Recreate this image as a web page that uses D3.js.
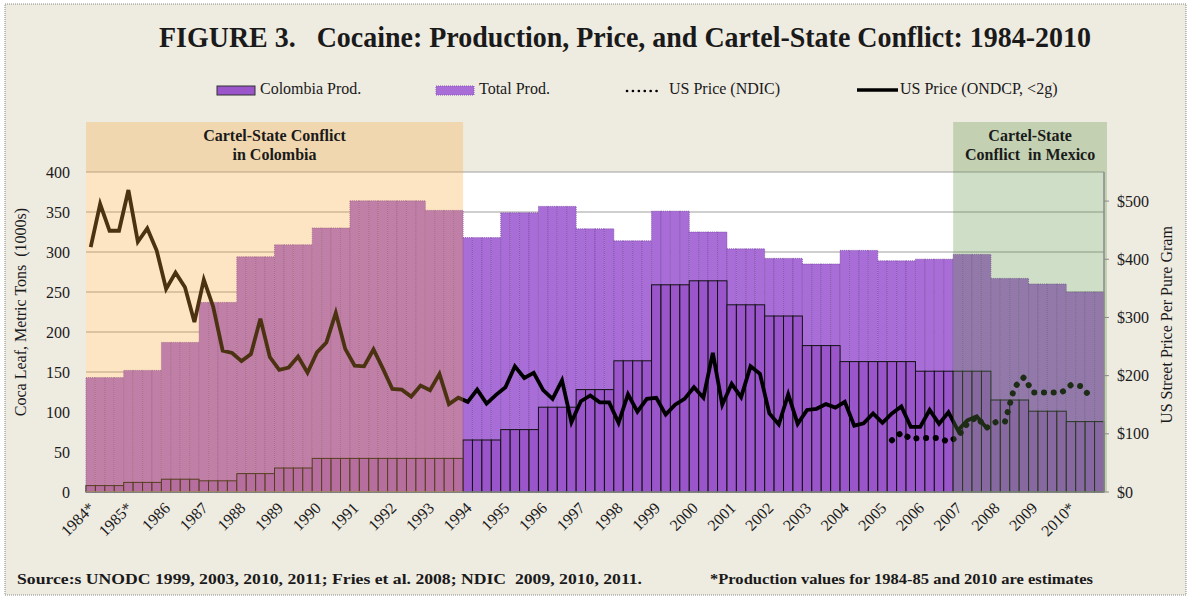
<!DOCTYPE html>
<html>
<head>
<meta charset="utf-8">
<script src="https://cdn.jsdelivr.net/npm/d3@7"></script>
<style>
  body { margin: 0; background: #ffffff; }
  svg text { font-family: "Liberation Serif", "DejaVu Serif", serif; fill: #1a1a1a; white-space: pre; }
</style>
</head>
<body>
<svg id="chart"></svg>
<script>
// year labels (one per year, 4 quarterly slots each)
var years = ["1984*","1985*","1986","1987","1988","1989","1990","1991","1992","1993","1994",
  "1995","1996","1997","1998","1999","2000","2001","2002","2003","2004","2005","2006",
  "2007","2008","2009","2010*"];

// production, 1000s metric tons (annual)
var totalProd = [143,152,187,237,294,309,330,364,364,352,318,349,357,329,314,351,325,304,292,285,302,289,291,297,267,260,250];
var colombiaProd = [8,12,16,14,23,30,42,42,42,42,65,78,106,128,164,259,264,234,220,183,163,163,151,151,115,101,88];

// US price per pure gram, quarterly from 1984 Q1 (ONDCP, <2g)
var ondcpPrice = [421,495,449,449, 519,430,453,415, 349,377,352,292, 365,318,243,239,
  225,237,298,232, 210,214,233,205, 240,257,308,246, 217,216,245,212,
  177,176,164,183, 175,203,151,162, 155,176,152,167, 180,216,196,205,
  175,160,192,120, 156,166,154,154, 119,168,138,160, 162,133,150,160,
  180,162,239,150, 186,163,216,203, 135,116,168,117, 141,143,151,145,
  155,114,118,135, 119,135,147,112, 112,141,117,137, 106,123,130,111];

// NDIC price, quarterly starting 2005 Q2 (quarter index 85)
var ndicStart = 85;
var ndicPrice = [89,102,91, 93,93,93,86, 95,118,129,110, 120,121,180,197, 171,171,171,171, 184,182,165];

var leftTicks = [0,50,100,150,200,250,300,350,400];
var rightTicks = [0,100,200,300,400,500];

var width = 1187, height = 598;
var pLeft = 86, pRight = 1104, pTop = 172, pBottom = 492;

var svg = d3.select("#chart").attr("width", width).attr("height", height);

var quarters = d3.range(years.length * 4);

var x = d3.scaleBand().domain(quarters).range([pLeft, pRight]).padding(0);
var y = d3.scaleLinear().domain([0, 400]).range([pBottom, pTop]);
var yPrice = d3.scaleLinear().domain([0, 550]).range([pBottom, pTop]);

// background
svg.append("rect").attr("x", 5).attr("y", 4).attr("width", width - 6).attr("height", height - 7)
  .attr("fill", "#eeebe1").attr("stroke", "#888").attr("stroke-dasharray", "1,1");

svg.append("rect").attr("x", pLeft).attr("y", pTop).attr("width", pRight - pLeft).attr("height", pBottom - pTop)
  .attr("fill", "#ffffff");

// gridlines
svg.append("g").selectAll("line").data(leftTicks.slice(1)).enter().append("line")
  .attr("x1", pLeft).attr("x2", pRight)
  .attr("y1", function(d) { return y(d); }).attr("y2", function(d) { return y(d); })
  .attr("stroke", "#a0a0a0").attr("stroke-width", 1.2);

// total production bars (each year repeated over its quarters)
svg.append("g").selectAll("rect").data(quarters).enter().append("rect")
  .attr("x", function(q) { return x(q); })
  .attr("width", x.bandwidth())
  .attr("y", function(q) { return y(totalProd[Math.floor(q / 4)]); })
  .attr("height", function(q) { return pBottom - y(totalProd[Math.floor(q / 4)]); })
  .attr("fill", "#a86dd6")
  .attr("stroke", "#7a4aa3")
  .attr("stroke-width", 0.8)
  .attr("stroke-dasharray", "1,1");

// colombia production bars
svg.append("g").selectAll("rect").data(quarters).enter().append("rect")
  .attr("x", function(q) { return x(q); })
  .attr("width", x.bandwidth())
  .attr("y", function(q) { return y(colombiaProd[Math.floor(q / 4)]); })
  .attr("height", function(q) { return pBottom - y(colombiaProd[Math.floor(q / 4)]); })
  .attr("fill", "#9955c9")
  .attr("stroke", "#111")
  .attr("stroke-width", 1);

// bottom axis line
svg.append("line").attr("x1", pLeft).attr("x2", pRight).attr("y1", pBottom).attr("y2", pBottom)
  .attr("stroke", "#8a8a8a").attr("stroke-width", 1.5);

// price lines
var line = d3.line()
  .x(function(d) { return x(d[0]) + x.bandwidth() / 2; })
  .y(function(d) { return yPrice(d[1]); });

svg.append("path")
  .datum(ondcpPrice.map(function(v, i) { return [i, v]; }))
  .attr("d", line)
  .attr("fill", "none").attr("stroke", "#000").attr("stroke-width", 3.8)
  .attr("stroke-linejoin", "miter");

svg.append("path")
  .datum(ndicPrice.map(function(v, i) { return [ndicStart + i, v]; }))
  .attr("d", line)
  .attr("fill", "none").attr("stroke", "#000").attr("stroke-width", 6)
  .attr("stroke-linecap", "round").attr("stroke-dasharray", "0.1,9.6");

// conflict periods (shaded overlays)
var colStart = x(0), colEnd = x(years.indexOf("1994") * 4);
var mexStart = x(years.indexOf("2007") * 4), mexEnd = pRight + 3;

svg.append("rect").attr("x", colStart).attr("y", 122).attr("width", colEnd - colStart).attr("height", pBottom - 122)
  .attr("fill", "rgb(248,170,60)").attr("opacity", 0.3);
svg.append("rect").attr("x", mexStart).attr("y", 122).attr("width", mexEnd - mexStart).attr("height", pBottom - 122)
  .attr("fill", "rgb(95,150,70)").attr("opacity", 0.3);

var colText = svg.append("text").attr("text-anchor", "middle").style("font-weight", "bold").style("font-size", "16px");
colText.append("tspan").attr("x", (colStart + colEnd) / 2).attr("y", 141).text("Cartel-State Conflict");
colText.append("tspan").attr("x", (colStart + colEnd) / 2).attr("y", 160).text("in Colombia");

var mexText = svg.append("text").attr("text-anchor", "middle").style("font-weight", "bold").style("font-size", "16px");
mexText.append("tspan").attr("x", (mexStart + mexEnd) / 2).attr("y", 141).text("Cartel-State");
mexText.append("tspan").attr("x", (mexStart + mexEnd) / 2).attr("y", 160).text("Conflict  in Mexico");

// right axis line + ticks
svg.append("line").attr("x1", pRight).attr("x2", pRight).attr("y1", pTop).attr("y2", pBottom)
  .attr("stroke", "#8a8a8a").attr("stroke-width", 1.5);
svg.append("g").selectAll("line").data(rightTicks).enter().append("line")
  .attr("x1", pRight).attr("x2", pRight + 5)
  .attr("y1", function(d) { return yPrice(d); }).attr("y2", function(d) { return yPrice(d); })
  .attr("stroke", "#8a8a8a");

// axis labels
svg.append("g").selectAll("text").data(leftTicks).enter().append("text")
  .attr("x", 70).attr("y", function(d) { return y(d); }).attr("dy", "0.35em")
  .attr("text-anchor", "end").style("font-size", "16px")
  .text(function(d) { return d; });

svg.append("g").selectAll("text").data(rightTicks).enter().append("text")
  .attr("x", 1117).attr("y", function(d) { return yPrice(d); }).attr("dy", "0.35em")
  .style("font-size", "16px")
  .text(function(d) { return "$" + d; });

svg.append("g").selectAll("text").data(years).enter().append("text")
  .attr("transform", function(d, i) { return "translate(" + (x(i * 4) + x.bandwidth() / 2 + 5) + "," + 509 + ") rotate(-45)"; })
  .attr("text-anchor", "end").style("font-size", "16px")
  .text(function(d) { return d; });

svg.append("text").attr("transform", "translate(26,312) rotate(-90)")
  .attr("text-anchor", "middle").style("font-size", "16px")
  .text("Coca Leaf, Metric Tons  (1000s)");
svg.append("text").attr("transform", "translate(1172,325) rotate(-90)")
  .attr("text-anchor", "middle").style("font-size", "16px")
  .text("US Street Price Per Pure Gram");

// legend
var legend = svg.append("g");
legend.append("rect").attr("x", 217).attr("y", 86).attr("width", 38).attr("height", 9)
  .attr("fill", "#9955c9").attr("stroke", "#333");
legend.append("text").attr("x", 260).attr("y", 94).style("font-size", "16px").text("Colombia Prod.");
legend.append("rect").attr("x", 436).attr("y", 86).attr("width", 38).attr("height", 9)
  .attr("fill", "#a86dd6").attr("stroke", "#8a5ab8").attr("stroke-dasharray", "1,1");
legend.append("text").attr("x", 479).attr("y", 94).style("font-size", "16px").text("Total Prod.");
legend.append("line").attr("x1", 627).attr("x2", 662).attr("y1", 91).attr("y2", 91)
  .attr("stroke", "#000").attr("stroke-width", 2.6).attr("stroke-linecap", "round").attr("stroke-dasharray", "0.1,5.8");
legend.append("text").attr("x", 669).attr("y", 94).style("font-size", "16px").text("US Price (NDIC)");
legend.append("line").attr("x1", 857).attr("x2", 898).attr("y1", 90).attr("y2", 90)
  .attr("stroke", "#000").attr("stroke-width", 3.5);
legend.append("text").attr("x", 900).attr("y", 94).style("font-size", "16px").text("US Price (ONDCP, <2g)");

// title
svg.append("text").attr("x", 159).attr("y", 47).style("font-size", "30px").style("font-weight", "bold")
  .attr("textLength", 932).attr("lengthAdjust", "spacingAndGlyphs")
  .text("FIGURE 3.   Cocaine: Production, Price, and Cartel-State Conflict: 1984-2010");

// footer
svg.append("text").attr("x", 17).attr("y", 584).style("font-size", "15px").style("font-weight", "bold")
  .attr("textLength", 625).attr("lengthAdjust", "spacingAndGlyphs")
  .text("Source:s UNODC 1999, 2003, 2010, 2011; Fries et al. 2008; NDIC  2009, 2010, 2011.");
svg.append("text").attr("x", 710).attr("y", 584).style("font-size", "15px").style("font-weight", "bold")
  .attr("textLength", 383).attr("lengthAdjust", "spacingAndGlyphs")
  .text("*Production values for 1984-85 and 2010 are estimates");
</script>
</body>
</html>
